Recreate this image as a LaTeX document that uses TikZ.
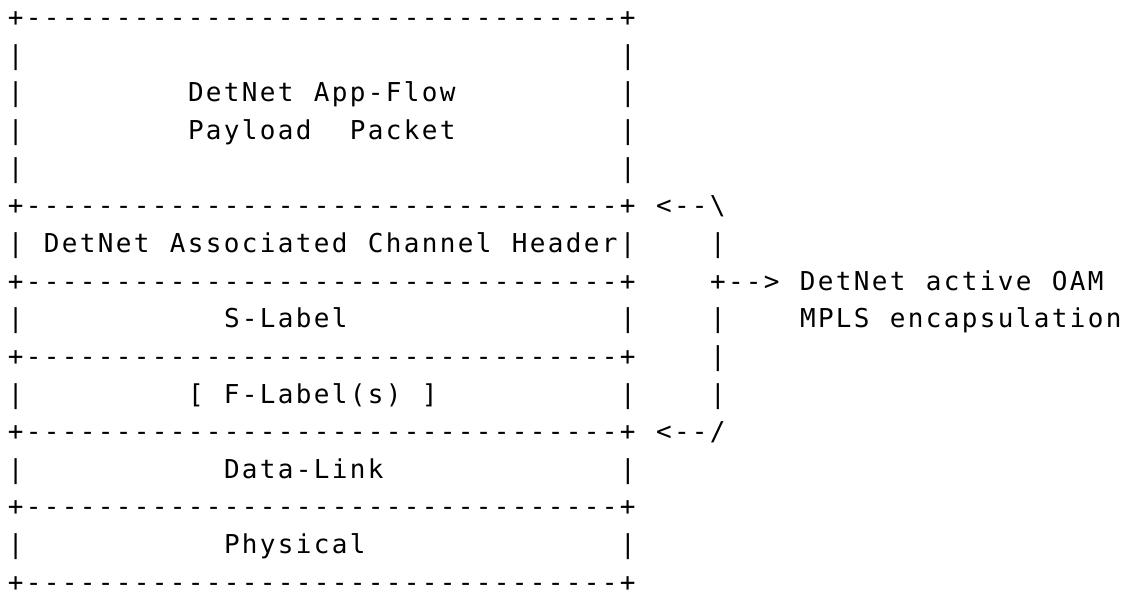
\documentclass[tikz,border=0pt]{standalone}
\usepackage{fontspec}
\setmonofont{DejaVu Sans Mono}[LetterSpace=9.025]

% one text row of the ascii frame
\newcommand\framerow{+---------------------------------+}
\newcommand\gridfont{\ttfamily\fontsize{13pt}{18.825pt}\selectfont\spaceskip 10.173pt\relax}
\newcommand\gap{\hspace*{9pt}}

\tikzset{
  cell/.style={anchor=base west, inner sep=0pt, outer sep=0pt, font=\gridfont}
}

\begin{document}
\begin{tikzpicture}
  \fill[white] (0,0) rectangle (570pt,-295.5pt);
  \useasboundingbox (0,0) rectangle (570pt,-295.5pt);

  \begin{scope}[shift={(4pt,-13.25pt)}, x=9pt, y=-18.825pt]
    % frame lines
    \foreach \r in {0,5,7,9,11,13,15}
      \node[cell] (row\r) at (0,\r) {\framerow};
    \foreach \r in {1,2,3,4,8,10,12,14} {
      \node[cell] (lbar\r) at (0,\r) {|};
      \node[cell] (rbar\r) at (34,\r) {|};
    }

    % payload
    \node[cell] (app) at (10,2) {DetNet App-Flow};
    \node[cell] (payload) at (10,3) {Payload\ \gap Packet};

    % associated channel header
    \node[cell] (ach) at (0,6) {| DetNet Associated Channel Header|};

    % labels
    \node[cell] (slabel) at (12,8) {S-Label};
    \node[cell] (flabel) at (10,10) {[ F-Label(s) ]};

    % lower layers
    \node[cell] (datalink) at (12,12) {Data-Link};
    \node[cell] (physical) at (12,14) {Physical};

    % bracket on the right
    \node[cell] (toparrow) at (36,5) {<--\textbackslash};
    \foreach \r in {6,8,9,10}
      \node[cell] (sbar\r) at (39,\r) {|};
    \node[cell] (outarrow) at (39,7) {+--> DetNet active OAM};
    \node[cell] (mpls) at (44,8) {MPLS encapsulation};
    \node[cell] (botarrow) at (36,11) {<--/};
  \end{scope}
\end{tikzpicture}
\end{document}
